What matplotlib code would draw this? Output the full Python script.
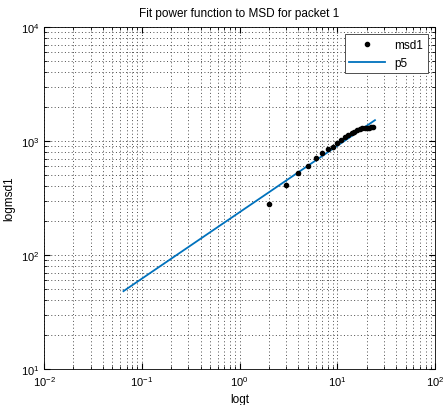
import matplotlib
matplotlib.use('Agg')
import matplotlib.pyplot as plt
import numpy as np

plt.rcParams['font.family'] = ['Liberation Sans', 'DejaVu Sans']
plt.rcParams['mathtext.default'] = 'regular'
plt.rcParams['font.size'] = 8

# MSD for packet 1
t = [2, 3, 4, 5, 6, 7, 8, 9, 10, 11, 12, 13, 14, 15, 16, 17, 18, 19, 20, 21, 22, 23]
msd1 = [279, 411, 521, 607, 705, 785, 846, 880, 960, 1020, 1080, 1130, 1170, 1210,
        1250, 1280, 1300, 1310, 1300, 1310, 1320, 1330]

# power fit p5: a * x^b
a = 237.0
b = 0.583
fit_range = [0.065, 24.3]

blue = (0.0, 0.447, 0.741)

fig = plt.figure(figsize=(4.43, 4.06), dpi=100)
ax = fig.add_axes([0.0993, 0.0887, 0.8827, 0.8424])

xs = np.logspace(np.log10(fit_range[0]), np.log10(fit_range[1]), 200)
ax.plot(t, msd1, 'o', color='black', markersize=3, label='msd1', zorder=3)
ax.plot(xs, a * xs ** b, '-', color=blue, linewidth=1.3, label='p5', zorder=2)

ax.set_xscale('log')
ax.set_yscale('log')
ax.set_xlim(1e-2, 1e2)
ax.set_ylim(1e1, 1e4)

ax.grid(True, which='both', linestyle=(0, (1, 2.5)), color='0.3', linewidth=0.7)
ax.tick_params(which='both', direction='in', top=True, right=True, labelsize=8)
ax.tick_params(which='major', length=4)
ax.tick_params(which='minor', length=2)
for s in ax.spines.values():
    s.set_linewidth(0.6)

ax.set_title('Fit power function to MSD for packet 1', fontsize=8.5, pad=8)
ax.set_xlabel('logt', fontsize=8.5)
ax.set_ylabel('logmsd1', fontsize=8.5)

leg = ax.legend(loc='upper right', fontsize=8.5, fancybox=False, framealpha=1,
                edgecolor='0.2', borderaxespad=0.6, handlelength=3)
leg.get_frame().set_linewidth(0.6)

fig.savefig('out.png', dpi=100)
